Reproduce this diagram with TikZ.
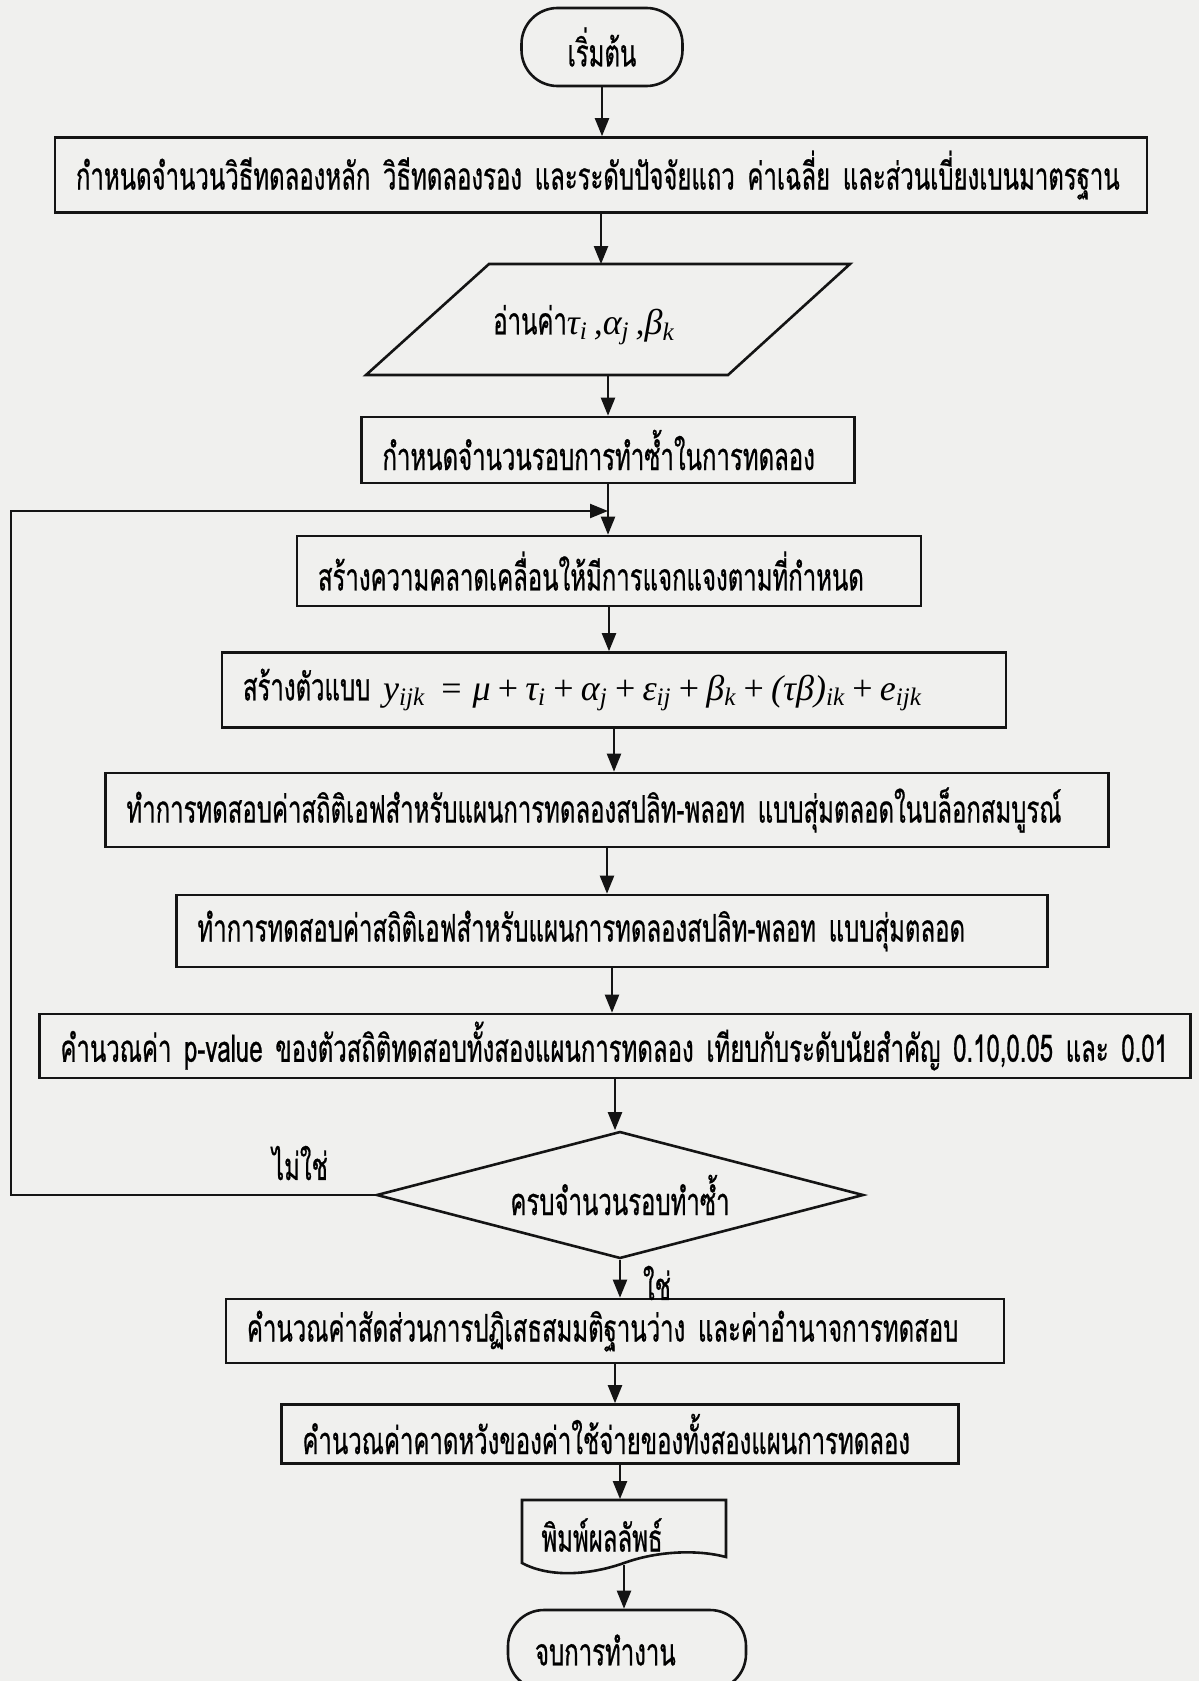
\documentclass[tikz,border=0pt]{standalone}
\usepackage{fontspec}
\setmainfont[Script=Thai,FakeStretch=0.63,FakeBold=0.6]{Loma}
\newfontfamily\tms{Liberation Serif}
\usetikzlibrary{shapes.geometric,arrows.meta,calc}
\definecolor{paper}{RGB}{240,240,238}
\definecolor{ink}{RGB}{20,20,20}
\newcommand\fs{\fontsize{19pt}{22pt}\selectfont}
\newcommand\tm[1]{{\tms\itshape\fontsize{18pt}{20pt}\selectfont #1}}
\newcommand\sbs[1]{\textsubscript{#1}}
\newcommand\op[1]{\hspace{0.2em}{\upshape #1}\hspace{0.2em}}
\tikzset{
  ln/.style={draw=ink,line width=1.1pt},
  arr/.style={ln,-{Triangle[length=9pt,width=7pt]}},
  procbox/.style={draw=ink,line width=1.3pt,rectangle,inner xsep=10.5pt,inner ysep=0pt,align=left,font=\fs},
  term/.style={draw=ink,line width=1.3pt,rectangle,rounded corners=18pt,inner sep=0pt,font=\fs},
  txt/.style={inner sep=0pt,font=\fs},
}
\begin{document}
\begin{tikzpicture}[x=0.5pt,y=-0.5pt]
\fill[paper] (0,0) rectangle (1199,1681);
\useasboundingbox (0,0) rectangle (1199,1681);

\node[term,minimum width=80.5pt,minimum height=39pt] (start) at (602,47) {เริ่มต้น};

\node[procbox,text width=525pt,minimum height=37.5pt] (box1) at (601,175)
 {\mbox{กำหนดจำนวนวิธีทดลองหลัก  วิธีทดลองรอง และระดับปัจจัยแถว ค่าเฉลี่ย  และส่วนเบี่ยงเบนมาตรฐาน}};

\node[minimum width=181pt,minimum height=55.5pt,inner sep=0pt] (para) at (608,320) {};
\draw[ln,line width=1.3pt] (489,264) -- (850,264) -- (728,375) -- (366,375) -- cycle;
\node[txt] (paratext) at (584,325) {อ่านค่า\tm{τ\sbs{i}\,,α\sbs{j}\,,β\sbs{k}}};

\node[procbox,text width=225.5pt,minimum height=33pt] (box2) at (608,450)
 {\mbox{กำหนดจำนวนรอบการทำซ้ำในการทดลอง}};

\node[procbox,text width=291pt,minimum height=35pt] (box3) at (609,571)
 {\mbox{สร้างความคลาดเคลื่อนให้มีการแจกแจงตามที่กำหนด}};

\node[procbox,text width=371pt,minimum height=37.5pt] (box4) at (614,690)
 {\mbox{สร้างตัวแบบ \tm{y\sbs{ijk}\hspace{0.45em}{\upshape =}\hspace{0.3em}μ\op{+}τ\sbs{i}\op{+}α\sbs{j}\op{+}ε\sbs{ij}\op{+}β\sbs{k}\op{+}(τβ)\sbs{ik}\op{+}e\sbs{ijk}}}};

\node[procbox,text width=480.5pt,minimum height=37pt] (box5) at (607,810)
 {\mbox{ทำการทดสอบค่าสถิติเอฟสำหรับแผนการทดลองสปลิท-พลอท  แบบสุ่มตลอดในบล็อกสมบูรณ์}};

\node[procbox,text width=414.5pt,minimum height=36pt] (box6) at (612,931)
 {\mbox{ทำการทดสอบค่าสถิติเอฟสำหรับแผนการทดลองสปลิท-พลอท  แบบสุ่มตลอด}};

\node[procbox,text width=554.5pt,minimum height=32pt] (box7) at (615,1046)
 {\mbox{คำนวณค่า p-value ของตัวสถิติทดสอบทั้งสองแผนการทดลอง เทียบกับระดับนัยสำคัญ 0.10,0.05  และ  0.01}};

\node[diamond,draw=ink,line width=1.3pt,aspect=3.8,minimum width=243.5pt,minimum height=63.5pt,inner sep=0pt,font=\fs] (dia) at (620,1195) {ครบจำนวนรอบทำซ้ำ};

\node[procbox,text width=368pt,minimum height=32pt] (box8) at (615,1331)
 {\mbox{คำนวณค่าสัดส่วนการปฏิเสธสมมติฐานว่าง  และค่าอำนาจการทดสอบ}};

\node[procbox,text width=317.5pt,minimum height=29.5pt] (box9) at (620,1434)
 {\mbox{คำนวณค่าคาดหวังของค่าใช้จ่ายของทั้งสองแผนการทดลอง}};

\node[minimum width=102pt,minimum height=32.5pt,inner sep=0pt] (doc) at (624,1532) {};
\draw[ln,line width=1.3pt] (522,1563) -- (522,1500) -- (726,1500) -- (726,1557)
  .. controls (700,1550) and (660,1550) .. (624,1563)
  .. controls (590,1575) and (550,1578) .. (522,1563) -- cycle;
\node[txt] (doctext) at (602,1535) {พิมพ์ผลลัพธ์};

\node[term,minimum width=119pt,minimum height=40pt,text width=92pt,inner xsep=13.5pt,align=left] (end) at (627,1650) {จบการทำงาน};

\node[txt] (no) at (300,1163) {ไม่ใช่};
\node[txt] (yes) at (657,1283) {ใช่};

\coordinate (lc1) at (11,1195);
\coordinate (lc2) at (11,511);

\draw[arr] (start.south) -- (start.south |- box1.north);
\draw[arr] (box1.south) -- (box1.south |- para.north);
\draw[arr] (para.south) -- (para.south |- box2.north);
\draw[arr] (box2.south) -- (box2.south |- box3.north);
\draw[arr] (dia.west) -- (lc1) -- (lc2) -- (box2.south |- lc2);
\draw[arr] (box3.south) -- (box3.south |- box4.north);
\draw[arr] (box4.south) -- (box4.south |- box5.north);
\draw[arr] (box5.south) -- (box5.south |- box6.north);
\draw[arr] (box6.south) -- (box6.south |- box7.north);
\draw[arr] (box7.south) -- (box7.south |- dia.north);
\draw[arr] (dia.south) -- (dia.south |- box8.north);
\draw[arr] (box8.south) -- (box8.south |- box9.north);
\draw[arr] (box9.south) -- (box9.south |- doc.north);
\draw[arr] (doc.south) -- (doc.south |- end.north);
\end{tikzpicture}
\end{document}
